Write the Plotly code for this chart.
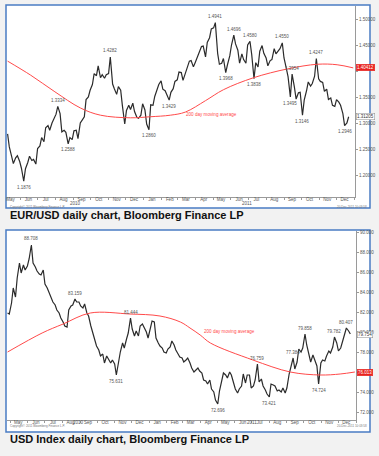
import pandas as pd
import plotly.graph_objects as go

# ---------------- DATA ----------------
# EUR/USD: two readings per week (Monday, Thursday), first week starting 2010-05-10
eur_start = "2010-05-10"
eur_values = [
    1.279, 1.254, 1.236, 1.222, 1.233, 1.237, 1.226, 1.213,   # May 2010
    1.188, 1.212, 1.224, 1.236, 1.228, 1.230, 1.221, 1.251,   # Jun
    1.256, 1.272, 1.264, 1.291, 1.295, 1.286, 1.300, 1.307,   # Jul
    1.317, 1.332, 1.318, 1.283, 1.286, 1.282, 1.260, 1.272, 1.268, 1.285,  # Aug
    1.286, 1.270, 1.300, 1.305, 1.312, 1.345, 1.350, 1.363,   # Sep
    1.374, 1.395, 1.391, 1.410, 1.387, 1.393, 1.386, 1.393,   # Oct
    1.395, 1.427, 1.375, 1.366, 1.355, 1.370, 1.363, 1.333, 1.298, 1.324,  # Nov
    1.334, 1.326, 1.338, 1.322, 1.311, 1.309, 1.315, 1.337,   # Dec
    1.325, 1.298, 1.287, 1.335, 1.334, 1.351, 1.362, 1.374, 1.381, 1.365,  # Jan 2011
    1.362, 1.355, 1.344, 1.359, 1.366, 1.380, 1.383, 1.398,   # Feb
    1.397, 1.382, 1.397, 1.406, 1.419, 1.420, 1.408, 1.416,   # Mar
    1.426, 1.434, 1.447, 1.448, 1.427, 1.455, 1.464, 1.481,   # Apr
    1.483, 1.493, 1.434, 1.413, 1.415, 1.424, 1.397, 1.412, 1.429, 1.450,  # May
    1.469, 1.452, 1.440, 1.415, 1.433, 1.422, 1.415, 1.450,   # Jun
    1.457, 1.432, 1.385, 1.416, 1.408, 1.438, 1.449, 1.434,   # Jul
    1.425, 1.410, 1.420, 1.422, 1.443, 1.433, 1.440, 1.443, 1.454, 1.425,  # Aug
    1.405, 1.389, 1.350, 1.394, 1.369, 1.346, 1.358, 1.359,   # Sep
    1.315, 1.344, 1.362, 1.379, 1.371, 1.376, 1.390, 1.424, 1.385, 1.380,  # Oct
    1.378, 1.361, 1.365, 1.345, 1.348, 1.334, 1.332, 1.345,   # Nov
    1.340, 1.334, 1.318, 1.295, 1.300, 1.312,                 # Dec
]
eur_ma_dates = ["2010-05-10", "2010-06-19", "2010-07-31", "2010-09-13", "2010-10-18",
                "2010-12-09", "2011-01-12", "2011-02-16", "2011-03-14", "2011-04-18",
                "2011-05-19", "2011-07-10", "2011-09-07", "2011-10-29", "2011-12-02",
                "2011-12-30"]
eur_ma_values = [1.419, 1.392, 1.360, 1.329, 1.315, 1.310, 1.312, 1.315, 1.321, 1.343,
                 1.364, 1.387, 1.404, 1.413, 1.412, 1.406]
eur_labels = [  # (date, text, value, above?)
    ("2010-06-07", "1.1876", 1.188, False), ("2010-08-05", "1.3334", 1.332, True),
    ("2010-08-23", "1.2588", 1.260, False), ("2010-11-04", "1.4282", 1.427, True),
    ("2011-01-10", "1.2860", 1.287, False), ("2011-02-14", "1.3429", 1.344, False),
    ("2011-05-05", "1.4941", 1.493, True), ("2011-05-23", "1.3968", 1.397, False),
    ("2011-06-06", "1.4696", 1.469, True), ("2011-07-04", "1.4580", 1.457, True),
    ("2011-07-11", "1.3838", 1.385, False), ("2011-08-29", "1.4550", 1.454, True),
    ("2011-09-12", "1.3495", 1.350, False), ("2011-09-15", "1.3954", 1.394, True),
    ("2011-10-03", "1.3146", 1.315, False), ("2011-10-27", "1.4247", 1.424, True),
    ("2011-12-15", "1.2946", 1.295, False),
]
eur_ticks = [1.20, 1.25, 1.30, 1.35, 1.40, 1.45, 1.50]
# the 1.40000 label sits under the red moving-average box in the reference
eur_ticktext = ["1.20000", "1.25000", "1.30000", "1.35000", "", "1.45000", "1.50000"]
eur_last, eur_last_text = 1.312, "1.31205"
eur_ma_last, eur_ma_last_text = 1.406, "1.40412"

# USD index: two readings per week (Monday, Thursday), first week starting 2010-04-26
dxy_start = "2010-04-26"
dxy_values = [
    81.9, 81.8, 82.9, 84.4, 83.5, 85.4, 86.9, 85.9, 86.7, 86.2, 86.6, 87.3,  # May 2010
    88.7, 86.9, 86.5, 86.1, 85.8, 85.7, 86.2, 84.8,   # Jun
    84.4, 84.0, 83.3, 83.0, 82.7, 82.2, 81.9, 81.4,   # Jul
    81.0, 80.6, 80.5, 82.2, 82.6, 82.7, 83.3, 83.0, 83.0, 82.6,  # Aug
    82.4, 82.8, 81.9, 81.6, 80.6, 79.9, 79.2, 78.6,   # Sep
    78.2, 77.6, 77.8, 76.9, 77.6, 77.3, 76.9, 77.2,   # Oct
    76.8, 75.7, 77.1, 78.0, 78.9, 78.4, 79.3, 79.9, 81.4, 80.3,  # Nov
    79.6, 80.1, 79.6, 80.6, 80.8, 80.4, 80.0, 79.4,   # Dec
    80.3, 81.1, 81.0, 79.4, 78.9, 78.6, 78.4, 78.0, 77.9, 78.3,  # Jan 2011
    78.5, 79.1, 78.7, 78.2, 77.8, 77.5, 77.4, 77.0,   # Feb
    77.2, 77.4, 76.9, 76.4, 76.0, 76.2, 76.4, 76.1,   # Mar
    75.9, 75.2, 75.1, 74.8, 75.2, 74.3, 74.0, 73.2,   # Apr
    72.8, 74.1, 75.0, 75.9, 75.7, 75.4, 76.0, 75.7, 74.9, 74.3,  # May
    73.9, 74.3, 74.6, 75.8, 74.9, 75.7, 75.7, 74.4,   # Jun
    74.6, 75.2, 76.8, 75.0, 75.3, 74.6, 74.2, 73.8,   # Jul
    73.5, 74.8, 74.7, 74.6, 74.1, 74.2, 74.0, 74.4, 73.9, 74.4,  # Aug
    75.8, 76.6, 77.4, 76.3, 77.0, 78.3, 78.0, 78.4,   # Sep
    79.8, 78.7, 77.6, 77.0, 77.7, 77.2, 76.6, 74.8, 76.9, 77.2,  # Oct
    77.1, 77.6, 78.1, 77.9, 78.5, 79.5, 78.9, 78.1,   # Nov
    78.4, 79.0, 79.8, 80.4, 80.1, 79.8,               # Dec
]
dxy_ma_dates = ["2010-04-26", "2010-06-26", "2010-08-02", "2010-09-19", "2010-11-28",
                "2011-01-20", "2011-02-25", "2011-03-14", "2011-04-01", "2011-04-19",
                "2011-07-03", "2011-09-07", "2011-10-30", "2011-12-04", "2011-12-30"]
dxy_ma_values = [78.0, 79.9, 80.8, 81.9, 81.8, 81.6, 81.0, 80.4, 79.7, 78.9,
                 77.2, 76.0, 75.7, 75.8, 76.0]
dxy_labels = [
    ("2010-06-07", "88.708", 88.7, True), ("2010-08-23", "83.159", 83.3, True),
    ("2010-11-04", "75.631", 75.7, False), ("2010-11-29", "81.444", 81.4, True),
    ("2011-05-02", "72.696", 72.8, False), ("2011-07-11", "76.759", 76.8, True),
    ("2011-08-01", "73.421", 73.5, False), ("2011-09-12", "77.384", 77.4, True),
    ("2011-10-03", "79.858", 79.8, True), ("2011-10-27", "74.724", 74.8, False),
    ("2011-11-24", "79.782", 79.5, True), ("2011-12-15", "80.407", 80.4, True),
]
dxy_ticks = [72, 74, 76, 78, 80, 82, 84, 86, 88, 90]
# the 76.000 label sits under the red moving-average box in the reference
dxy_ticktext = ["72.000", "74.000", "", "78.000", "80.000", "82.000",
                "84.000", "86.000", "88.000", "90.000"]
dxy_last, dxy_last_text = 79.75, "79.754"
dxy_ma_last, dxy_ma_last_text = 76.0, "76.013"

months = ["May", "Jun", "Jul", "Aug", "Sep", "Oct", "Nov", "Dec", "Jan", "Feb", "Mar",
          "Apr", "May", "Jun", "Jul", "Aug", "Sep", "Oct", "Nov", "Dec"]
month_mid = pd.date_range("2010-05-01", periods=len(months), freq="MS") + pd.Timedelta(days=14)


def twice_weekly(start, n):
    mondays = pd.date_range(start, periods=(n + 1) // 2, freq="W-MON")
    out = []
    for m in mondays:
        out += [m, m + pd.Timedelta(days=3)]
    return out[:n]


# ---------------- FIGURE ----------------
W, H = 379, 456
px = lambda x: x / W
py = lambda y: 1 - y / H

PRICE = "#2b2b2b"
MA = "#ff4a4a"
FRAME = "#4a7cc4"
AX = "#9a9a9a"
TXT = "#555555"
FONT = "Liberation Sans, Arial, sans-serif"

fig = go.Figure()
fig.add_trace(go.Scatter(x=twice_weekly(eur_start, len(eur_values)), y=eur_values,
                         mode="lines", line=dict(color=PRICE, width=1.2), xaxis="x", yaxis="y"))
fig.add_trace(go.Scatter(x=pd.to_datetime(eur_ma_dates), y=eur_ma_values, mode="lines",
                         line=dict(color=MA, width=1, shape="spline"), xaxis="x", yaxis="y"))
fig.add_trace(go.Scatter(x=twice_weekly(dxy_start, len(dxy_values)), y=dxy_values,
                         mode="lines", line=dict(color=PRICE, width=1.2), xaxis="x2", yaxis="y2"))
fig.add_trace(go.Scatter(x=pd.to_datetime(dxy_ma_dates), y=dxy_ma_values, mode="lines",
                         line=dict(color=MA, width=1, shape="spline"), xaxis="x2", yaxis="y2"))

xcommon = dict(type="date", tickmode="array", tickvals=list(month_mid), ticktext=months,
               ticks="", ticklabelstandoff=-2, tickfont=dict(size=4.5, color=TXT, family=FONT),
               showline=True, linecolor=AX, linewidth=1, showgrid=False, zeroline=False,
               minor=dict(ticks="outside", ticklen=2, tickcolor=AX, dtick="M1",
                          tick0="2010-05-01", showgrid=False))
ycommon = dict(side="right", ticks="outside", ticklen=2, tickcolor=AX,
               tickfont=dict(size=4.5, color=TXT, family=FONT), showline=True,
               linecolor=AX, linewidth=1, showgrid=False, zeroline=False)

fig.update_layout(
    width=W, height=H, margin=dict(l=0, r=0, t=0, b=0),
    paper_bgcolor="#f2f2f2", plot_bgcolor="white", showlegend=False,
    xaxis=dict(domain=[px(7), px(355)], anchor="y", range=["2010-05-09", "2012-01-02"], **xcommon),
    yaxis=dict(domain=[py(197), py(6)], anchor="x", range=[1.1577, 1.525],
               tickvals=eur_ticks, ticktext=eur_ticktext, **ycommon),
    xaxis2=dict(domain=[px(7), px(356)], anchor="y2", range=["2010-04-25", "2012-01-01"], **xcommon),
    yaxis2=dict(domain=[py(420), py(231)], anchor="x2", range=[71.2, 90.1],
                tickvals=dxy_ticks, ticktext=dxy_ticktext, **ycommon),
    shapes=[
        dict(type="rect", xref="paper", yref="paper", x0=px(6), x1=px(370), y0=py(208), y1=py(5),
             fillcolor="white", line=dict(color=FRAME, width=1.5), layer="below"),
        dict(type="rect", xref="paper", yref="paper", x0=px(6), x1=px(370), y0=py(432), y1=py(230),
             fillcolor="white", line=dict(color=FRAME, width=1.5), layer="below"),
    ],
)

ann = []
small = dict(size=4.5, color=TXT, family=FONT)
for xr, yr, labels in (("x", "y", eur_labels), ("x2", "y2", dxy_labels)):
    for d, t, v, above in labels:
        ann.append(dict(x=d, y=v, xref=xr, yref=yr, text=t, showarrow=False, font=small,
                        yshift=6 if above else -6))

# moving-average captions
ann.append(dict(x="2011-03-11", y=1.3154, xref="x", yref="y", text="200 day moving average",
                showarrow=False, xanchor="left", font=dict(size=4.6, color=MA, family=FONT)))
ann.append(dict(x="2011-04-04", y=80.1, xref="x2", yref="y2", text="200 day moving average",
                showarrow=False, xanchor="left", font=dict(size=4.6, color=MA, family=FONT)))

# right-hand value boxes
for yr, xpos, val, txt, bg, fc in (
        ("y", px(355.5), eur_ma_last, eur_ma_last_text, "#e8231f", "white"),
        ("y", px(355.5), eur_last, eur_last_text, "white", "#333333"),
        ("y2", px(356.5), dxy_ma_last, dxy_ma_last_text, "#e8231f", "white"),
        ("y2", px(356.5), dxy_last, dxy_last_text, "white", "#333333")):
    ann.append(dict(x=xpos, y=val, xref="paper", yref=yr, text=txt, showarrow=False,
                    xanchor="left", bgcolor=bg, bordercolor="#888888" if bg == "white" else bg,
                    borderwidth=0.5, borderpad=0.5, font=dict(size=4.5, color=fc, family=FONT)))

# year labels
for xr, d, ypix in (("x", "2010-09-04", 203.5), ("x", "2011-06-29", 203.5),
                    ("x2", "2010-08-29", 427), ("x2", "2011-07-02", 427)):
    ann.append(dict(x=d, y=py(ypix), xref=xr, yref="paper", text=d[:4], showarrow=False,
                    font=small))

# copyright / timestamp
for ypix in (206.5, 429.5):
    ann.append(dict(x=px(7.5), y=py(ypix), xref="paper", yref="paper",
                    text="Copyright© 2011 Bloomberg Finance L.P.", showarrow=False,
                    xanchor="left", font=dict(size=3, color="#777777", family=FONT)))
    ann.append(dict(x=px(368.5), y=py(ypix), xref="paper", yref="paper",
                    text="20-Dec-2011 10:03:58", showarrow=False, xanchor="right",
                    font=dict(size=3, color="#777777", family=FONT)))

# captions
for ypix, txt in ((215, "EUR/USD daily chart, Bloomberg Finance LP"),
                  (439, "USD Index daily chart, Bloomberg Finance LP")):
    ann.append(dict(x=px(7.5), y=py(ypix), xref="paper", yref="paper", text="<b>" + txt + "</b>",
                    showarrow=False, xanchor="left", yanchor="middle",
                    font=dict(size=11, color="#111111", family=FONT)))

fig.update_layout(annotations=ann)
fig.write_html("out.html", config={"displayModeBar": False},
               post_script="document.body.style.margin='0';")
